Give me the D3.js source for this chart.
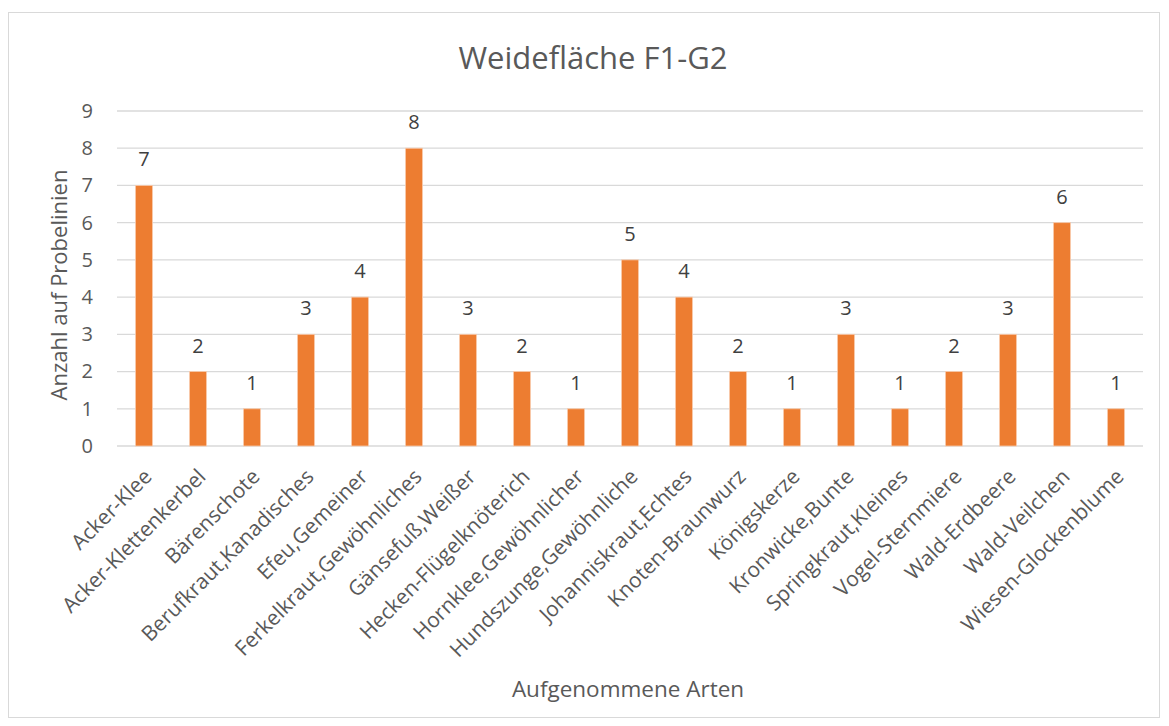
<!DOCTYPE html>
<html>
<head>
<meta charset="utf-8">
<script src="https://cdn.jsdelivr.net/npm/d3@7"></script>
<style>
  body { margin: 0; background: #fff; }
  text { font-family: "Open Sans", sans-serif; fill: #595959; }
</style>
</head>
<body>
<svg id="chart" width="1169" height="726"></svg>
<script>
const categories = [
  "Acker-Klee", "Acker-Klettenkerbel", "Bärenschote", "Berufkraut,Kanadisches",
  "Efeu,Gemeiner", "Ferkelkraut,Gewöhnliches", "Gänsefuß,Weißer", "Hecken-Flügelknöterich",
  "Hornklee,Gewöhnlicher", "Hundszunge,Gewöhnliche", "Johanniskraut,Echtes", "Knoten-Braunwurz",
  "Königskerze", "Kronwicke,Bunte", "Springkraut,Kleines", "Vogel-Sternmiere",
  "Wald-Erdbeere", "Wald-Veilchen", "Wiesen-Glockenblume"
];
const values = [7, 2, 1, 3, 4, 8, 3, 2, 1, 5, 4, 2, 1, 3, 1, 2, 3, 6, 1];
const yTicks = [0, 1, 2, 3, 4, 5, 6, 7, 8, 9];

const title = "Weidefläche F1-G2";
const xTitle = "Aufgenommene Arten";
const yTitle = "Anzahl auf Probelinien";

const svg = d3.select("#chart");
const plot = {left: 117, right: 1143, top: 111, bottom: 446};

// chart frame
svg.append("rect")
    .attr("x", 8.5).attr("y", 12.5)
    .attr("width", 1151).attr("height", 705)
    .attr("fill", "#fff")
    .attr("stroke", "#d9d9d9");

const x = d3.scaleBand()
    .domain(categories)
    .range([plot.left, plot.right])
    .paddingInner(0.685)
    .paddingOuter(0.3425);

const y = d3.scaleLinear()
    .domain([0, 9])
    .range([plot.bottom, plot.top]);

// gridlines
svg.append("g")
  .selectAll("line")
  .data(yTicks)
  .enter().append("line")
    .attr("x1", plot.left).attr("x2", plot.right)
    .attr("y1", d => y(d)).attr("y2", d => y(d))
    .attr("stroke", "#d9d9d9")
    .attr("stroke-width", 1.3);

// y axis labels
const yAxis = svg.append("g")
    .attr("transform", `translate(${plot.left - 24},0)`)
    .call(d3.axisLeft(y).tickValues(yTicks).tickSize(0).tickPadding(0));
yAxis.select(".domain").remove();
yAxis.selectAll("text")
    .style("font-family", '"Open Sans", sans-serif')
    .style("font-size", "20px")
    .attr("fill", "#595959");

// bars
svg.append("g")
  .selectAll("rect")
  .data(values)
  .enter().append("rect")
    .attr("x", (d, i) => x(categories[i]))
    .attr("y", d => y(d))
    .attr("width", x.bandwidth())
    .attr("height", d => y(0) - y(d))
    .attr("fill", "#ed7d31")
    .attr("stroke", "#f8cbad")
    .attr("stroke-width", 0.8);

// data labels
svg.append("g")
  .selectAll("text")
  .data(values)
  .enter().append("text")
    .attr("x", (d, i) => x(categories[i]) + x.bandwidth() / 2)
    .attr("y", d => y(d) - 19)
    .attr("text-anchor", "middle")
    .style("font-size", "20px")
    .style("fill", "#404040")
    .text(d => d);

// x axis labels, rotated
const xAxis = svg.append("g")
    .attr("transform", `translate(0,${plot.bottom})`)
    .call(d3.axisBottom(x).tickSize(0).tickPadding(0));
xAxis.select(".domain").remove();
xAxis.selectAll("text")
    .style("font-family", '"Open Sans", sans-serif')
    .style("font-size", "21px")
    .attr("fill", "#595959")
    .attr("text-anchor", "end")
    .attr("y", 0)
    .attr("dy", 0)
    .attr("transform", "translate(9,32) rotate(-45)");

// titles
svg.append("text")
    .attr("x", 593).attr("y", 69)
    .attr("text-anchor", "middle")
    .style("font-size", "31px")
    .text(title);

svg.append("text")
    .attr("x", 628).attr("y", 697)
    .attr("text-anchor", "middle")
    .style("font-size", "22.5px")
    .text(xTitle);

svg.append("text")
    .attr("transform", "translate(67,285) rotate(-90)")
    .attr("text-anchor", "middle")
    .style("font-size", "22px")
    .text(yTitle);
</script>
</body>
</html>
